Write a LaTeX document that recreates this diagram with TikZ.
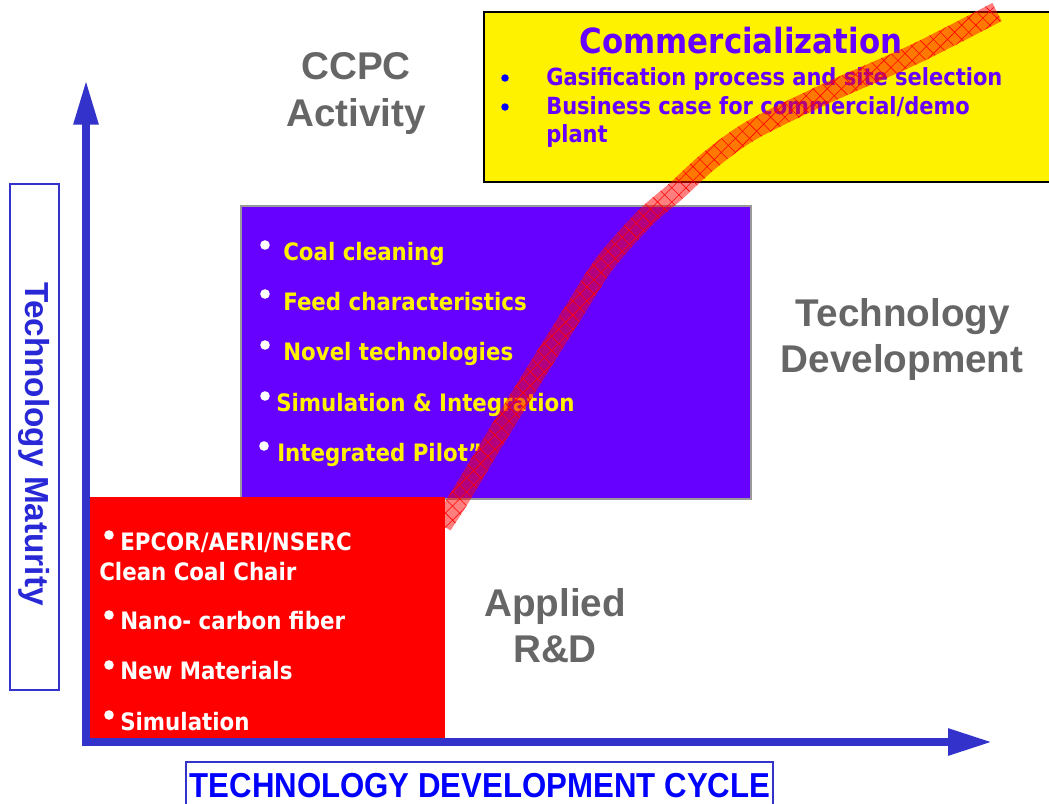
\documentclass[tikz,border=0pt]{standalone}
\usepackage{fontspec}
\usetikzlibrary{arrows.meta,calc,patterns.meta}
\setmainfont{DejaVu Sans}
\newfontfamily\tah{DejaVu Sans}[FakeStretch=0.89]
\newfontfamily\arl{Liberation Sans}
\newfontfamily\arln{Liberation Sans}[FakeStretch=0.9]
\definecolor{axisblue}{RGB}{51,51,204}
\definecolor{violetbox}{RGB}{102,0,255}
\definecolor{comtxt}{RGB}{102,0,255}
\definecolor{headgray}{RGB}{102,102,102}
\definecolor{boxgray}{RGB}{153,153,153}
\definecolor{matblue}{RGB}{40,40,215}
\begin{document}
\begin{tikzpicture}[x=0.75pt,y=-0.75pt,
  head/.style={font=\arl\bfseries\fontsize{29}{34}\selectfont, text=headgray, anchor=base, inner sep=0pt},
  item/.style={font=\tah\bfseries\fontsize{18}{22}\selectfont, anchor=base west, inner sep=0pt},
  comitem/.style={item, text=comtxt, font=\tah\bfseries\fontsize{17.7}{21.3}\selectfont},
  pitem/.style={item, text=yellow},
  ritem/.style={item, text=white},
  wdot/.style={fill=white},
  bdot/.style={fill=blue},
  axisline/.style={line width=5.8pt, axisblue, line join=miter},
  band/.style={fill=red, fill opacity=0.5,
    postaction={pattern={Lines[angle=45,distance=7.5pt,line width=0.45pt]}, pattern color=red, fill opacity=0.45},
    postaction={pattern={Lines[angle=-45,distance=7.5pt,line width=0.45pt]}, pattern color=red, fill opacity=0.45}}
]
\useasboundingbox (0,0) rectangle (1049,803);
\clip (0,0) rectangle (1049,803);
\fill[white] (0,0) rectangle (1049,803);

% Commercialization box
\filldraw[fill=yellow, draw=black, line width=1.5pt] (484,12) rectangle (1070,182);
\node[font=\tah\bfseries\fontsize{26}{30}\selectfont, text=comtxt, anchor=base, inner sep=0pt] (com) at (741,53) {Commercialization};
\fill[bdot] (505,78) circle[radius=2.8pt];
\fill[bdot] (505,107) circle[radius=2.8pt];
\node[comitem] (gas) at (546,85) {Gasification process and site selection};
\node[comitem] (bus) at (546,114) {Business case for commercial/demo};
\node[comitem] (plant) at (546,142) {plant};

% Technology development box
\filldraw[fill=violetbox, draw=boxgray, line width=1.2pt] (241,206) rectangle (751,499);
\fill[wdot] (265,245) circle[radius=3.6pt];
\fill[wdot] (265,294) circle[radius=3.6pt];
\fill[wdot] (265,345) circle[radius=3.6pt];
\fill[wdot] (265,396) circle[radius=3.6pt];
\fill[wdot] (264,446) circle[radius=3.6pt];
\node[pitem] (p1) at (283,260) {Coal cleaning};
\node[pitem] (p2) at (283,310) {Feed characteristics};
\node[pitem] (p3) at (283,360) {Novel technologies};
\node[pitem] (p4) at (276,411) {Simulation \& Integration};
\node[pitem] (p5) at (277,461) {Integrated Pilot”};

% S-curve band
\foreach \px/\py [count=\i from 0] in {442/525,460/497,490/447,531/380,573/313,605/263,645/218,675/192,710/160,752/130,825/94,915/54,997/12}
  {\coordinate (c\i) at (\px,\py);}
\foreach \i [evaluate=\i as \j using int(\i+1), evaluate=\i as \k using int(\i-1)] in {1,...,11}{
  \coordinate (T\i) at ($(c\i)+(c\j)-(c\k)$);
  \coordinate (L\i) at ($(c\i)!7.6pt!90:(T\i)$);
  \coordinate (R\i) at ($(c\i)!7.6pt!-90:(T\i)$);
}
\coordinate (L0) at ($(c0)!7.6pt!90:(c1)$);
\coordinate (R0) at ($(c0)!7.6pt!-90:(c1)$);
\coordinate (L12) at ($(c12)!7.6pt!-90:(c11)$);
\coordinate (R12) at ($(c12)!7.6pt!90:(c11)$);
\path[band] plot[smooth] coordinates {(L0)(L1)(L2)(L3)(L4)(L5)(L6)(L7)(L8)(L9)(L10)(L11)(L12)}
  -- plot[smooth] coordinates {(R12)(R11)(R10)(R9)(R8)(R7)(R6)(R5)(R4)(R3)(R2)(R1)(R0)} -- cycle;

% Applied R&D box
\fill[red] (90,497) rectangle (445,740);
\fill[wdot] (109,535) circle[radius=3.6pt];
\fill[wdot] (109,615) circle[radius=3.6pt];
\fill[wdot] (109,665) circle[radius=3.6pt];
\fill[wdot] (109,715) circle[radius=3.6pt];
\node[ritem] (r1) at (120,550) {EPCOR/AERI/NSERC};
\node[ritem] (r1b) at (99,580) {Clean Coal Chair};
\node[ritem] (r2) at (120,629) {Nano- carbon fiber};
\node[ritem] (r3) at (120,679) {New Materials};
\node[ritem] (r4) at (120,730) {Simulation};

% headings
\node[head] (h1a) at (356,79) {CCPC};
\node[head] (h1b) at (356,126) {Activity};
\node[head] (h2a) at (903,326) {Technology};
\node[head] (h2b) at (902,372) {Development};
\node[head] (h3a) at (555,616) {Applied};
\node[head] (h3b) at (555,662) {R\&D};

% axes
\coordinate (O) at (86,742);
\coordinate (Ytip) at (86,80);
\coordinate (Xtip) at (992,742);
\draw[axisline, {Triangle[length=33.5pt,width=17.5pt]}-{Triangle[length=33pt,width=19pt]}] (Ytip) -- (O) -- (Xtip);

% axis labels
\draw[axisblue, line width=1.3pt] (10,184) rectangle (59,690);
\node[font=\arl\bfseries\fontsize{25}{30}\selectfont, text=matblue, rotate=-90, inner sep=0pt] (ylab) at (34,444) {Technology Maturity};
\draw[axisblue, line width=1.3pt] (186,762) rectangle (773,815);
\node[font=\arln\bfseries\fontsize{26}{30}\selectfont, text=blue, anchor=base, inner sep=0pt] (xlab) at (480,797) {TECHNOLOGY DEVELOPMENT CYCLE};
\end{tikzpicture}
\end{document}
